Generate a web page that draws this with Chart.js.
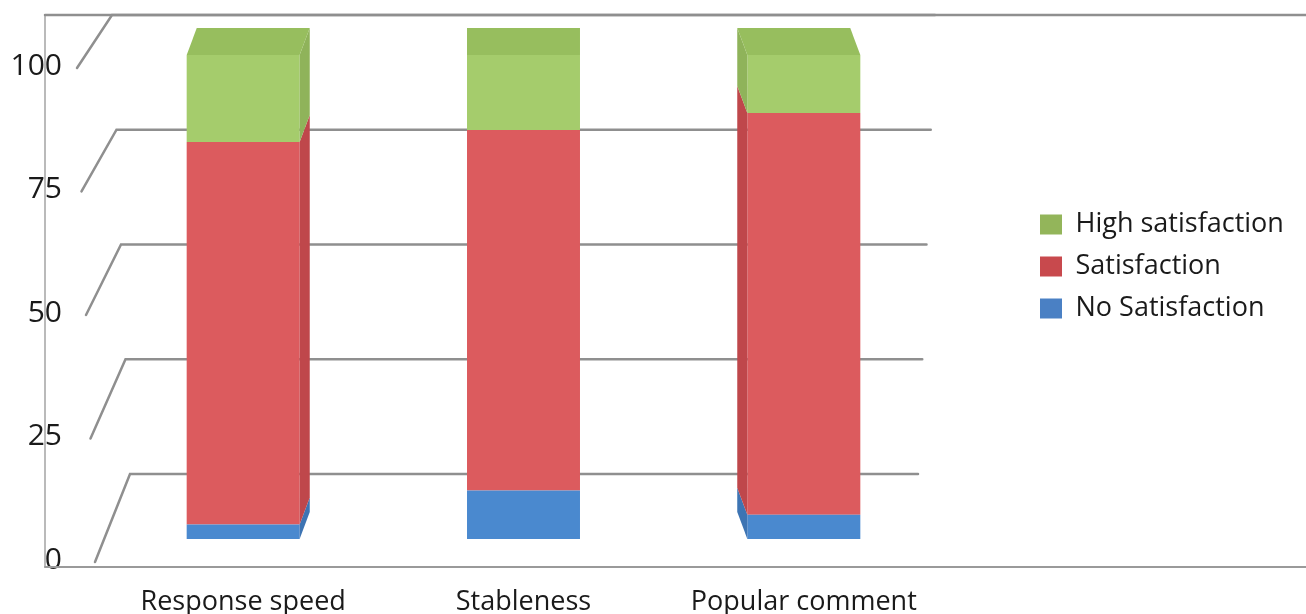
<!DOCTYPE html>
<html><head><meta charset="utf-8">
<script src="https://cdn.jsdelivr.net/npm/chart.js@4/dist/chart.umd.min.js"></script>
<style>html,body{margin:0;padding:0;background:#fff}#wrap{width:1306px;height:614px;position:relative}</style>
</head><body><div id="wrap"><canvas id="c" width="1306" height="614"></canvas></div>
<script>
// ---- data ----
const categories = ['Response speed', 'Stableness', 'Popular comment'];
const noSatisfaction = [3, 10, 5];
const satisfaction = [79, 74.5, 83];
const highSatisfaction = [18, 15.5, 12];
const seriesNames = ['No Satisfaction', 'Satisfaction', 'High satisfaction'];
const yTicks = [0, 25, 50, 75, 100];

// ---- styles ----
const FONT = "'Open Sans', sans-serif";
const TEXT = '#1a1a1a';
const frontColors = ['#4a89cf', '#dc5b5e', '#a5cc6c'];
const sideColors = ['#3d74b3', '#bf474b', '#8fb35a'];
const topColor = '#97be5e';
const legendColors = ['#4a80c4', '#c8494d', '#93b55a'];
const DEPTH = 27;
const LEG_FONT = 27, LEG_BOX = 22, LEG_PAD = 15;
const SPACER = 81, PLOT_RIGHT = 944;

// legend width (Chart.js: padding + box + font/2 + text + 10) to keep the plot edge fixed
const mctx = document.createElement('canvas').getContext('2d');
mctx.font = LEG_FONT + 'px ' + FONT;
const maxText = Math.max(...seriesNames.map(t => mctx.measureText(t).width));
const legendW = LEG_PAD + LEG_BOX + LEG_FONT / 2 + maxText + 10;
const padRight = Math.max(0, 1306 - PLOT_RIGHT - SPACER - legendW);

const decorPlugin = {
  id: 'decor',
  beforeDatasetsDraw(chart) {
    const {ctx, chartArea: ca, scales} = chart;
    ctx.save();
    ctx.lineCap = 'round';
    ctx.strokeStyle = '#a3a3a3'; ctx.lineWidth = 1.5;
    ctx.beginPath(); ctx.moveTo(45, ca.top); ctx.lineTo(45, ca.bottom); ctx.stroke();
    ctx.strokeStyle = '#9a9a9a'; ctx.lineWidth = 2;
    ctx.beginPath(); ctx.moveTo(45, ca.bottom); ctx.lineTo(chart.width, ca.bottom); ctx.stroke();
    ctx.strokeStyle = '#8f8f8f'; ctx.lineWidth = 2.5;
    ctx.beginPath(); ctx.moveTo(45, ca.top); ctx.lineTo(chart.width, ca.top); ctx.stroke();
    yTicks.forEach(v => {
      const yFront = scales.yl.getPixelForValue(v) + 2;
      const yBack = scales.yb.getPixelForValue(v);
      const x1 = ca.left - 8 - 0.18 * v;
      const x2 = ca.left + 27 - 0.18 * v;
      const x3 = ca.right - 26 + 0.17 * v;
      ctx.beginPath();
      ctx.moveTo(x1, yFront); ctx.lineTo(x2, yBack); ctx.lineTo(x3, yBack);
      ctx.stroke();
    });
    ctx.restore();
  },
  afterDatasetsDraw(chart) {
    const {ctx, chartArea: ca} = chart;
    const vx = (ca.left + ca.right) / 2;
    const n = chart.data.datasets.length;
    ctx.save();
    chart.data.datasets.forEach((ds, di) => {
      const meta = chart.getDatasetMeta(di);
      meta.data.forEach(bar => {
        const {x, y, base, width} = bar.getProps(['x', 'y', 'base', 'width'], true);
        const dx = -(x - vx) * 0.036;
        const left = x - width / 2, right = x + width / 2;
        const top = Math.min(y, base), bot = Math.max(y, base);
        if (Math.abs(dx) > 1) {
          const sx = dx > 0 ? right : left;
          ctx.fillStyle = sideColors[di];
          ctx.beginPath();
          ctx.moveTo(sx, top); ctx.lineTo(sx + dx, top - DEPTH);
          ctx.lineTo(sx + dx, bot - DEPTH); ctx.lineTo(sx, bot);
          ctx.closePath(); ctx.fill();
        }
        if (di === n - 1) {
          ctx.fillStyle = topColor;
          ctx.beginPath();
          ctx.moveTo(left, top); ctx.lineTo(right, top);
          ctx.lineTo(right + dx, top - DEPTH); ctx.lineTo(left + dx, top - DEPTH);
          ctx.closePath(); ctx.fill();
        }
      });
    });
    ctx.restore();
  }
};

const seriesValues = [noSatisfaction, satisfaction, highSatisfaction];
const noPad = s => { s.paddingTop = 0; s.paddingBottom = 0; s.paddingLeft = 0; s.paddingRight = 0; };

new Chart(document.getElementById('c'), {
  type: 'bar',
  data: {
    labels: categories,
    datasets: seriesValues.map((vals, i) => ({
      label: seriesNames[i],
      data: vals,
      backgroundColor: frontColors[i],
      borderWidth: 0,
      barPercentage: 1,
      categoryPercentage: 0.403,
      xAxisID: 'x',
      yAxisID: 'y'
    }))
  },
  options: {
    responsive: false,
    animation: false,
    devicePixelRatio: 1,
    layout: { autoPadding: false, padding: { top: 15, left: 0, right: padRight, bottom: 0 } },
    plugins: {
      tooltip: { enabled: false },
      legend: {
        position: 'right',
        align: 'start',
        reverse: true,
        title: { display: true, text: ' ', font: { size: 12 }, padding: { top: 166.6, bottom: 0 } },
        labels: {
          boxWidth: LEG_BOX,
          boxHeight: 20,
          padding: LEG_PAD,
          color: TEXT,
          font: { family: FONT, size: LEG_FONT },
          generateLabels: (chart) => Chart.defaults.plugins.legend.labels.generateLabels(chart)
            .map(l => Object.assign(l, { fillStyle: legendColors[l.datasetIndex], lineWidth: 0 }))
        }
      }
    },
    scales: {
      x: {
        stacked: true,
        grid: { display: false },
        border: { display: false },
        ticks: { color: TEXT, font: { family: FONT, size: 27 }, padding: 11 },
        afterFit: s => { s.height = 47; noPad(s); }
      },
      y: { stacked: true, display: false, min: -5.79, max: 108.26 },
      yb: { type: 'linear', display: false, min: -20.26, max: 100 },
      yl: {
        type: 'linear', position: 'left', min: -1.42, max: 110.32,
        grid: { display: false },
        border: { display: false },
        ticks: { color: TEXT, font: { family: FONT, size: 30 }, padding: 33 },
        afterBuildTicks: s => { s.ticks = yTicks.map(v => ({ value: v })); },
        afterFit: s => { s.width = 103; noPad(s); }
      },
      ys: {
        type: 'linear', position: 'right', display: false,
        afterFit: s => { s.width = SPACER; noPad(s); }
      }
    }
  },
  plugins: [decorPlugin]
});
</script>
</body></html>
